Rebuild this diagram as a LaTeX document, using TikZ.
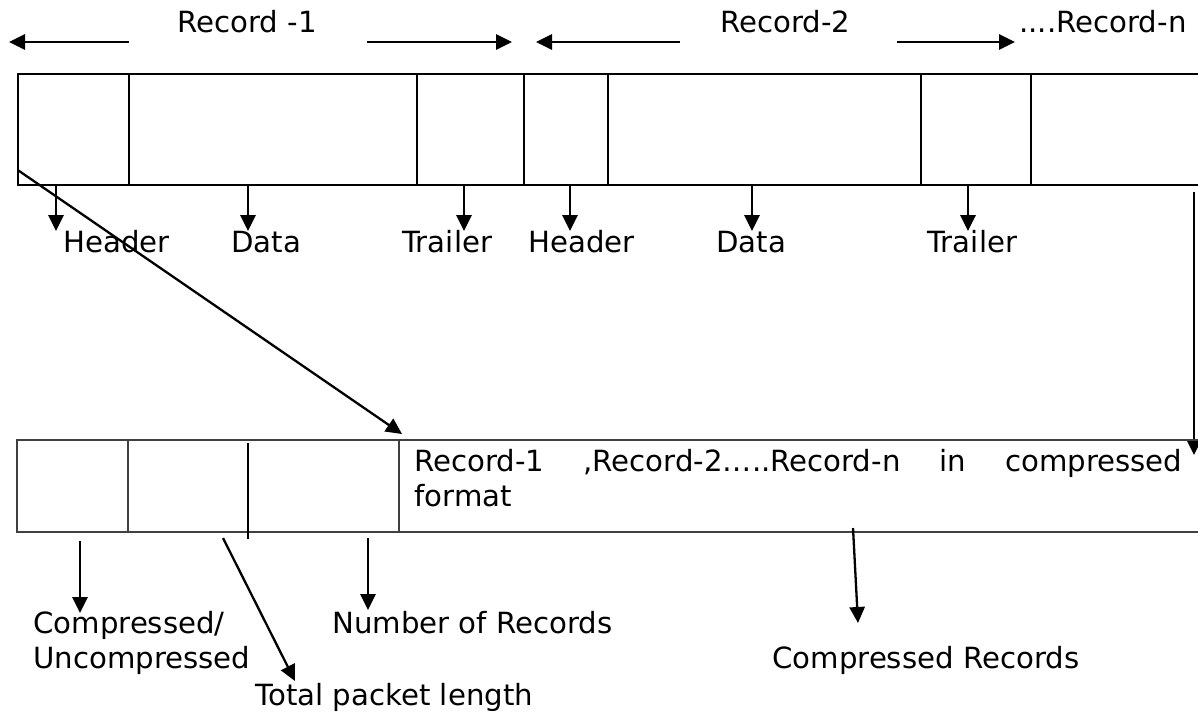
\documentclass[tikz,border=0pt]{standalone}
\usepackage{fontspec}
\setmainfont{DejaVu Sans}
\usetikzlibrary{arrows.meta}
\tikzset{
	lbl/.style={anchor=base west, inner sep=0pt, font=\fontsize{14.6}{17.5}\selectfont},
	arr/.style={line width=1.35pt, -{Triangle[length=8pt,width=7.6pt]}},
	topbox/.style={line width=1.2pt},
	lowbox/.style={line width=0.75pt, draw=black!75}
}

\begin{document}
\begin{tikzpicture}[x=0.5pt, y=-0.5pt]
		\useasboundingbox (0,0) rectangle (1198,713);
		
		% span of each record
		\node[lbl] (recA) at (177,32) {Record -1};
		\node[lbl] (recB) at (720,32) {Record-2};
		\node[lbl] (recN) at (1019,32) {....Record-n};
		\coordinate (spanAl) at (129,42); \coordinate (tipAl) at (9,42);
		\coordinate (spanAr) at (367,42); \coordinate (tipAr) at (512,42);
		\coordinate (spanBl) at (680,42); \coordinate (tipBl) at (536,42);
		\coordinate (spanBr) at (897,42); \coordinate (tipBr) at (1015,42);
		\draw[arr] (spanAl) -- (tipAl);
		\draw[arr] (spanAr) -- (tipAr);
		\draw[arr] (spanBl) -- (tipBl);
		\draw[arr] (spanBr) -- (tipBr);
		
		% record stream
		\draw[topbox] (1198,74) -- (17.7,74) -- (17.7,185) -- (1198,185);
		\draw[topbox] (129,74) -- (129,185);
		\draw[topbox] (417,74) -- (417,185);
		\draw[topbox] (524,74) -- (524,185);
		\draw[topbox] (608,74) -- (608,185);
		\draw[topbox] (921,74) -- (921,185);
		\draw[topbox] (1031,74) -- (1031,185);
		
		\node[lbl] (hdrA) at (63,252) {Header};
		\node[lbl] (datA) at (231,252) {Data};
		\node[lbl] (trlA) at (402,252) {Trailer};
		\node[lbl] (hdrB) at (528,252) {Header};
		\node[lbl] (datB) at (716,252) {Data};
		\node[lbl] (trlB) at (927,252) {Trailer};
		\coordinate (hdrAs) at (56,184); \coordinate (hdrAt) at (56,231);
		\coordinate (datAs) at (248,184); \coordinate (datAt) at (248,231);
		\coordinate (trlAs) at (464,184); \coordinate (trlAt) at (464,231);
		\coordinate (hdrBs) at (570,184); \coordinate (hdrBt) at (570,231);
		\coordinate (datBs) at (752,184); \coordinate (datBt) at (752,231);
		\coordinate (trlBs) at (968,184); \coordinate (trlBt) at (968,231);
		\draw[arr] (hdrAs) -- (hdrAt);
		\draw[arr] (datAs) -- (datAt);
		\draw[arr] (trlAs) -- (trlAt);
		\draw[arr] (hdrBs) -- (hdrBt);
		\draw[arr] (datBs) -- (datBt);
		\draw[arr] (trlBs) -- (trlBt);
		
		% into the packet
		\coordinate (streamL) at (17.7,170); \coordinate (packetIn) at (402,434);
		\coordinate (streamR) at (1194,192); \coordinate (packetR) at (1194,455);
		\draw[arr, line width=1.15pt] (streamL) -- (packetIn);
		\draw[arr, line width=1.15pt] (streamR) -- (packetR);
		
		% compressed packet
		\draw[lowbox] (1198,440) -- (17,440) -- (17,532) -- (1198,532);
		\draw[lowbox] (128,440) -- (128,532);
		\draw[lowbox] (399,440) -- (399,532);
		\draw[line width=1.15pt] (248,443) -- (248,539);
		\node[lbl] (payload) at (414,471) {\makebox[384pt][s]{Record-1 ,Record-2…..Record-n in compressed}};
		\node[lbl] (payfmt) at (414,506) {format};
		
		\node[lbl] (flagA) at (33,633) {Compressed/};
		\node[lbl] (flagB) at (33,668) {Uncompressed};
		\node[lbl] (plen) at (255,705) {Total packet length};
		\node[lbl] (nrec) at (332,633) {Number of Records};
		\node[lbl] (crec) at (772,668) {Compressed Records};
		\coordinate (flagS) at (80,541); \coordinate (flagT) at (80,613);
		\coordinate (plenS) at (223,538); \coordinate (plenT) at (295,681);
		\coordinate (nrecS) at (368,538); \coordinate (nrecT) at (368,610);
		\coordinate (crecS) at (853,528); \coordinate (crecT) at (858,623);
		\draw[arr] (flagS) -- (flagT);
		\draw[arr, line width=1.15pt] (plenS) -- (plenT);
		\draw[arr] (nrecS) -- (nrecT);
		\draw[arr, line width=1.15pt] (crecS) -- (crecT);
\end{tikzpicture}
\end{document}
